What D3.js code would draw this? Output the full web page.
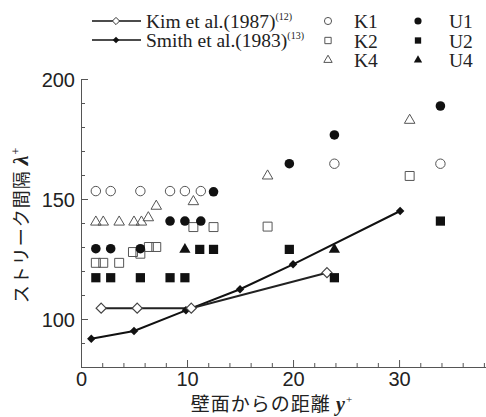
<!DOCTYPE html>
<html>
<head>
<meta charset="utf-8">
<script src="https://cdn.jsdelivr.net/npm/d3@7"></script>
<style>
  body { margin: 0; background: #fff; }
  svg { display: block; }
</style>
</head>
<body>
<svg id="chart" width="486" height="417"></svg>
<script>
// y+ と λ+ の読み取り値
var kimLine = [[1.9, 104.5], [5.3, 104.5], [10.4, 104.5], [23.2, 119.3]];
var smithLine = [[0.97, 91.8], [5.0, 95], [9.9, 103.6], [15.0, 112.4], [20.0, 122.8], [30.1, 145]];

var K1 = [[1.4, 153.3], [2.8, 153.3], [5.6, 153.3], [8.4, 153.3], [9.8, 153.3], [11.3, 153.3], [23.9, 164.7], [33.9, 164.7]];
var K2 = [[1.4, 123.4], [2.1, 123.4], [3.6, 123.4], [4.9, 127.9], [5.6, 127.2], [6.4, 130], [7.1, 130],
          [10.6, 138.3], [12.5, 138.3], [17.6, 138.5], [31.0, 159.6]];
var K4 = [[1.4, 140.4], [2.1, 140.4], [3.6, 140.4], [5.0, 140.4], [5.7, 140.4], [6.35, 142.2], [7.1, 147],
          [10.6, 148.9], [17.6, 159.6], [31.0, 182.8]];
var U1 = [[1.4, 129.3], [2.8, 129.3], [5.6, 129.3], [8.4, 140.8], [9.8, 140.8], [11.3, 140.8], [12.5, 153],
          [19.65, 164.7], [23.9, 176.7], [33.9, 188.75]];
var U2 = [[1.4, 117.2], [2.8, 117.2], [5.6, 117.2], [8.4, 117.2], [9.8, 117.2], [11.2, 129], [12.5, 129],
          [19.65, 129], [23.9, 117.2], [33.9, 140.8]];
var U4 = [[9.8, 129], [23.9, 129]];

var xMajor = [0, 10, 20, 30];
var yMajor = [100, 150, 200];

var svg = d3.select("#chart");

var x = d3.scaleLinear().domain([0, 38.2]).range([81, 486]);
var y = d3.scaleLinear().domain([80, 200]).range([367, 79]);

var axisColor = "#555";
var sans = "'Liberation Sans', Arial, sans-serif";
var serif = "'Liberation Serif', 'Times New Roman', serif";
var jp = "'Noto Sans CJK JP', sans-serif";

// 正方形に近い菱形
var squareDiamond = {
	draw: function(ctx, size) {
		var r = Math.sqrt(size / 2);
		ctx.moveTo(0, -r);
		ctx.lineTo(r, 0);
		ctx.lineTo(0, r);
		ctx.lineTo(-r, 0);
		ctx.closePath();
	}
};

// axes
var xMinor = d3.range(0, 39, 2).filter(function(v) { return xMajor.indexOf(v) < 0; });
var yMinor = d3.range(80, 201, 10).filter(function(v) { return yMajor.indexOf(v) < 0; });

var xAxis = svg.append("g")
	.attr("transform", "translate(0," + y(80) + ")")
	.call(d3.axisBottom(x).tickValues(xMajor).tickSize(-7).tickPadding(5).tickFormat(d3.format("d")));
svg.append("g")
	.attr("transform", "translate(0," + y(80) + ")")
	.call(d3.axisBottom(x).tickValues(xMinor).tickSize(-4).tickFormat(""))
	.select(".domain").remove();

var yAxis = svg.append("g")
	.attr("transform", "translate(" + x(0) + ",0)")
	.call(d3.axisLeft(y).tickValues(yMajor).tickSize(-7).tickPadding(6).tickFormat(d3.format("d")));
svg.append("g")
	.attr("transform", "translate(" + x(0) + ",0)")
	.call(d3.axisLeft(y).tickValues(yMinor).tickSize(-4).tickFormat(""))
	.select(".domain").remove();

svg.selectAll(".domain, .tick line").attr("stroke", axisColor).attr("stroke-width", 1);
svg.selectAll(".tick text")
	.attr("fill", "#222")
	.style("font-family", sans)
	.style("font-size", "20px");
yAxis.selectAll(".tick text").attr("dy", "0.36em");

// axis titles
var xlab = svg.append("text")
	.attr("x", 272)
	.attr("y", 411)
	.attr("text-anchor", "middle")
	.attr("fill", "#222")
	.style("font-family", jp)
	.style("font-size", "19px")
	.style("letter-spacing", "1px")
	.text("壁面からの距離 ");
xlab.append("tspan")
	.style("font-family", serif)
	.style("font-style", "italic")
	.style("font-weight", "bold")
	.style("font-size", "20px")
	.text("y");
xlab.append("tspan")
	.attr("dy", "-8")
	.style("font-family", serif)
	.style("font-size", "11px")
	.text("+");

var ylab = svg.append("text")
	.attr("transform", "translate(28,225) rotate(-90)")
	.attr("text-anchor", "middle")
	.attr("fill", "#222")
	.style("font-family", jp)
	.style("font-size", "18px")
	.style("letter-spacing", "1px")
	.text("ストリーク間隔 ");
ylab.append("tspan")
	.style("font-family", serif)
	.style("font-style", "italic")
	.style("font-weight", "bold")
	.style("font-size", "22px")
	.text("λ");
ylab.append("tspan")
	.attr("dy", "-8")
	.style("font-family", serif)
	.style("font-size", "12px")
	.text("+");

// lines
var line = d3.line()
	.x(function(d) { return x(d[0]); })
	.y(function(d) { return y(d[1]); });

svg.append("path").datum(smithLine)
	.attr("d", line).attr("fill", "none").attr("stroke", "#111").attr("stroke-width", 2);
svg.append("path").datum(kimLine)
	.attr("d", line).attr("fill", "none").attr("stroke", "#222").attr("stroke-width", 2);

svg.selectAll(".smith").data(smithLine).enter().append("path")
	.attr("transform", function(d) { return "translate(" + x(d[0]) + "," + y(d[1]) + ")"; })
	.attr("d", d3.symbol().type(squareDiamond).size(36))
	.attr("fill", "#111");
svg.selectAll(".kim").data(kimLine).enter().append("path")
	.attr("transform", function(d) { return "translate(" + x(d[0]) + "," + y(d[1]) + ")"; })
	.attr("d", d3.symbol().type(squareDiamond).size(50))
	.attr("fill", "#fff").attr("stroke", "#444").attr("stroke-width", 1.2);

// markers
var series = [
	{ data: K1, type: d3.symbolCircle, size: 70, open: true },
	{ data: K2, type: d3.symbolSquare, size: 80, open: true },
	{ data: K4, type: d3.symbolTriangle, size: 48, open: true },
	{ data: U1, type: d3.symbolCircle, size: 72, open: false },
	{ data: U2, type: d3.symbolSquare, size: 85, open: false },
	{ data: U4, type: d3.symbolTriangle, size: 55, open: false }
];

series.forEach(function(s) {
	svg.append("g").selectAll("path")
		.data(s.data)
		.enter().append("path")
		.attr("transform", function(d) { return "translate(" + x(d[0]) + "," + y(d[1]) + ")"; })
		.attr("d", d3.symbol().type(s.type).size(s.size))
		.attr("fill", s.open ? "none" : "#111")
		.attr("stroke", s.open ? "#555" : "none")
		.attr("stroke-width", 1);
});

// legend
var leg = svg.append("g");
var legLines = [
	{ label: "Kim et al.(1987)", sup: "(12)", y: 21, open: true },
	{ label: "Smith et al.(1983)", sup: "(13)", y: 40, open: false }
];
legLines.forEach(function(d) {
	leg.append("line").attr("x1", 92).attr("x2", 141).attr("y1", d.y).attr("y2", d.y)
		.attr("stroke", "#111").attr("stroke-width", 1.5);
	leg.append("path")
		.attr("transform", "translate(116," + d.y + ")")
		.attr("d", d3.symbol().type(squareDiamond).size(d.open ? 26 : 22))
		.attr("fill", d.open ? "#fff" : "#111")
		.attr("stroke", d.open ? "#333" : "none");
	var t = leg.append("text")
		.attr("x", 146).attr("y", d.y + 7)
		.attr("fill", "#222")
		.style("font-family", serif)
		.style("font-size", "19.5px")
		.text(d.label);
	t.append("tspan").attr("dy", -8).style("font-size", "10px").text(d.sup);
});

var legMarks = [
	{ label: "K1", type: d3.symbolCircle, open: true, col: 0, row: 0 },
	{ label: "K2", type: d3.symbolSquare, open: true, col: 0, row: 1 },
	{ label: "K4", type: d3.symbolTriangle, open: true, col: 0, row: 2 },
	{ label: "U1", type: d3.symbolCircle, open: false, col: 1, row: 0 },
	{ label: "U2", type: d3.symbolSquare, open: false, col: 1, row: 1 },
	{ label: "U4", type: d3.symbolTriangle, open: false, col: 1, row: 2 }
];
legMarks.forEach(function(d) {
	var mx = d.col ? 418 : 328;
	var my = 21 + d.row * 19.5;
	leg.append("path")
		.attr("transform", "translate(" + mx + "," + my + ")")
		.attr("d", d3.symbol().type(d.type).size(d.type === d3.symbolTriangle ? 30 : 40))
		.attr("fill", d.open ? "none" : "#111")
		.attr("stroke", d.open ? "#555" : "none");
	leg.append("text")
		.attr("x", d.col ? 449 : 354).attr("y", my + 7)
		.attr("fill", "#222")
		.style("font-family", serif)
		.style("font-size", "19.5px")
		.text(d.label);
});
</script>
</body>
</html>
